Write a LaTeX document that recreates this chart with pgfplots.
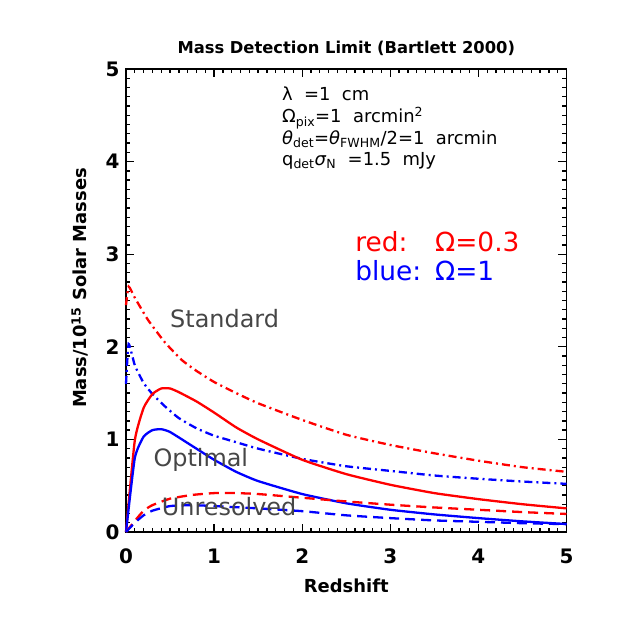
\documentclass[border=0pt]{standalone}
\usepackage{pgfplots}
\pgfplotsset{compat=1.18}
\usepackage{fontspec}
\setmainfont{DejaVu Sans}
\definecolor{myred}{RGB}{255,0,0}
\definecolor{myblue}{RGB}{0,0,255}
\definecolor{lbl}{RGB}{70,70,70}
\begin{document}
\begin{tikzpicture}
\begin{axis}[
  at={(0,0)}, anchor=south west,
  scale only axis, width=440.5bp, height=463bp,
  xmin=0, xmax=5, ymin=0, ymax=5,
  xtick={0,1,2,3,4,5}, ytick={0,1,2,3,4,5},
  minor x tick num=9, minor y tick num=9,
  tick align=inside,
  major tick length=8bp, minor tick length=4bp,
  axis line style={line width=1.8bp},
  every tick/.style={black, line width=1.3bp},
  /pgf/number format/assume math mode=true,
  ticklabel style={font=\bfseries\fontsize{20}{20}\selectfont},
  xticklabel style={yshift=-13bp},
  yticklabel style={xshift=-3bp},
  xlabel={Redshift},
  ylabel={Mass/10\textsuperscript{15} Solar Masses},
  label style={font=\bfseries\fontsize{18}{18}\selectfont},
  xlabel style={at={(axis description cs:0.5,0)}, anchor=center, yshift=-54bp},
  ylabel style={at={(axis description cs:-0.1044,0.527)}, anchor=center},
  clip=false,
  every axis plot/.append style={line width=2.3bp, smooth, tension=0.3},
]
% Standard, Omega=0.3
\addplot[myred, dash pattern=on 8bp off 4bp on 2bp off 4bp] coordinates {
(0,2.45) (0.03,2.65) (0.1,2.53) (0.25,2.29) (0.44,2.05) (0.63,1.86) (0.8,1.74) (1,1.62) (1.25,1.5) (1.5,1.39) (2,1.21) (2.5,1.05) (3,0.94) (3.5,0.85) (4,0.77) (4.5,0.70) (5,0.65)};
% Standard, Omega=1
\addplot[myblue, dash pattern=on 8bp off 4bp on 2bp off 4bp] coordinates {
(0,1.6) (0.03,2.03) (0.1,1.8) (0.2,1.61) (0.3,1.49) (0.45,1.35) (0.6,1.23) (0.8,1.12) (1,1.04) (1.25,0.97) (1.5,0.9) (2,0.79) (2.5,0.71) (3,0.66) (3.5,0.61) (4,0.575) (4.5,0.545) (5,0.52)};
% Optimal, Omega=0.3
\addplot[myred] coordinates {
(0,0) (0.1,0.99) (0.2,1.34) (0.3,1.49) (0.4,1.55) (0.5,1.55) (0.6,1.51) (0.8,1.41) (1,1.29) (1.25,1.13) (1.5,1.0) (2,0.78) (2.5,0.625) (3,0.51) (3.5,0.42) (4,0.355) (4.5,0.30) (5,0.255)};
% Optimal, Omega=1
\addplot[myblue] coordinates {
(0,0) (0.1,0.8) (0.2,1.03) (0.3,1.1) (0.4,1.11) (0.5,1.08) (0.75,0.93) (1,0.78) (1.25,0.65) (1.5,0.55) (2,0.41) (2.5,0.31) (3,0.24) (3.5,0.19) (4,0.15) (4.5,0.115) (5,0.086)};
% Unresolved, Omega=0.3
\addplot[myred, dash pattern=on 10bp off 6bp] coordinates {
(0,0) (0.1,0.12) (0.2,0.23) (0.3,0.29) (0.5,0.36) (0.75,0.40) (1,0.42) (1.25,0.42) (1.5,0.41) (2,0.37) (2.5,0.33) (3,0.295) (3.5,0.265) (4,0.24) (4.5,0.215) (5,0.195)};
% Unresolved, Omega=1
\addplot[myblue, dash pattern=on 10bp off 6bp] coordinates {
(0,0) (0.1,0.1) (0.2,0.18) (0.3,0.23) (0.5,0.28) (0.75,0.29) (1,0.28) (1.5,0.255) (2,0.225) (2.5,0.18) (3,0.15) (3.5,0.125) (4,0.11) (4.5,0.095) (5,0.085)};

\node[anchor=base, font=\bfseries\fontsize{16.4}{16.4}\selectfont] at (axis description cs:0.5,1) [yshift=16bp] {Mass Detection Limit (Bartlett 2000)};

\begin{scope}[every node/.style={anchor=base west, inner sep=0pt, font=\fontsize{18}{18}\selectfont}]
\node at (axis cs:1.77,4.665) {λ\ \ =1\ \ cm};
\node at (axis cs:1.77,4.417) {Ω\textsubscript{pix}=1\ \ arcmin\textsuperscript{2}};
\node at (axis cs:1.77,4.19) {\textit{θ}\textsubscript{det}=\textit{θ}\textsubscript{FWHM}/2=1\ \ arcmin};
\node at (axis cs:1.77,3.963) {q\textsubscript{det}\textit{σ}\textsubscript{N}\ \ =1.5\ \ mJy};
\end{scope}

\begin{scope}[every node/.style={anchor=base west, inner sep=0pt, font=\fontsize{26.5}{26.5}\selectfont}]
\node[text=myred] at (axis cs:2.6,3.027) {red:};
\node[text=myred] at (axis cs:3.507,3.027) {Ω=0.3};
\node[text=myblue] at (axis cs:2.6,2.72) {blue:};
\node[text=myblue] at (axis cs:3.507,2.72) {Ω=1};
\end{scope}

\begin{scope}[every node/.style={anchor=base west, inner sep=0pt, text=lbl, font=\fontsize{24}{24}\selectfont}]
\node at (axis cs:0.5,2.21) {Standard};
\node at (axis cs:0.31,0.705) {Optimal};
\node at (axis cs:0.405,0.173) {Unresolved};
\end{scope}
\end{axis}
\pgfresetboundingbox
\path[use as bounding box] (-126bp,-97bp) rectangle (503bp,532bp);
\end{tikzpicture}
\end{document}
